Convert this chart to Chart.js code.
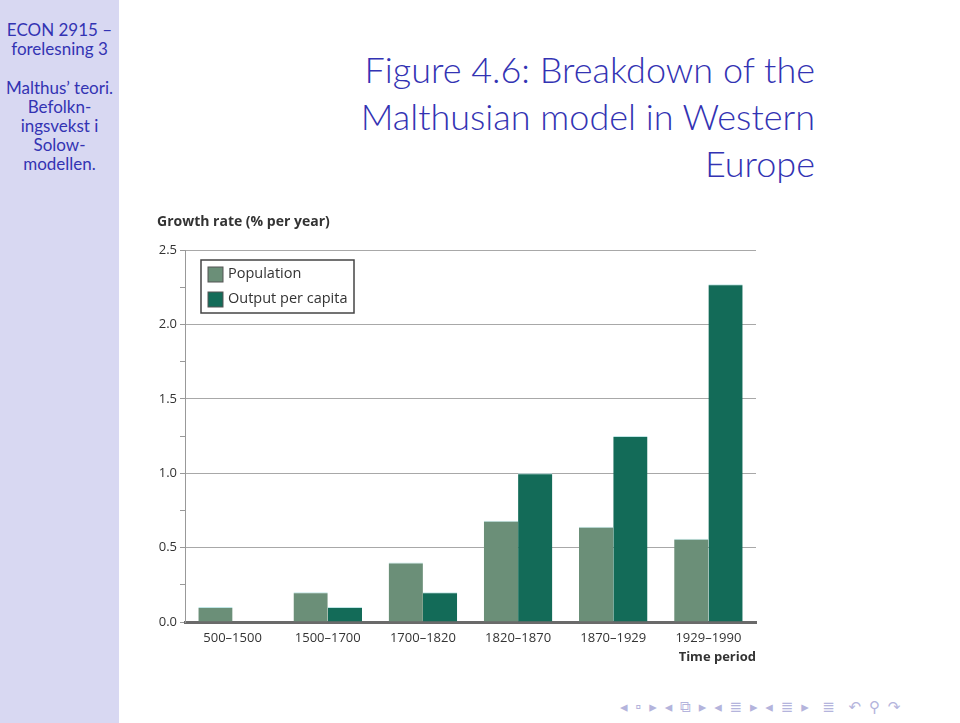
<!DOCTYPE html>
<html>
<head>
<meta charset="utf-8">
<script src="https://cdn.jsdelivr.net/npm/chart.js@4"></script>
<style>
  body { margin: 0; width: 960px; height: 723px; background: #fff; position: relative; overflow: hidden; font-family: "Lato", "DejaVu Sans", sans-serif; }
  #sidebar { position: absolute; left: 0; top: 0; width: 119px; height: 723px; background: #d8d8f2; color: #3333b3; text-align: center; font-size: 17px; line-height: 19px; }
  #sidebar .a { position: absolute; top: 20px; left: 0; width: 119px; }
  #sidebar .b { position: absolute; top: 78px; left: 0; width: 119px; }
  #title { position: absolute; right: 145px; top: 46px; text-align: right; color: #3333b3; font-size: 36px; line-height: 47px; font-weight: 300; }
  #nav { position: absolute; left: 620px; top: 697px; color: #b4b4dc; font-size: 15px; letter-spacing: 2px; white-space: nowrap; }
  #wrap { position: absolute; left: 140px; top: 200px; }
</style>
</head>
<body>
<div id="sidebar">
  <div class="a">ECON 2915 –<br>forelesning 3</div>
  <div class="b">Malthus’ teori.<br>Befolkn-<br>ingsvekst i<br>Solow-<br>modellen.</div>
</div>
<div id="title">Figure 4.6: Breakdown of the<br>Malthusian model in Western<br>Europe</div>
<div id="wrap"><canvas id="chart" width="640" height="480"></canvas></div>
<div id="nav">◂ ▫ ▸ ◂ ⧉ ▸ ◂ ≣ ▸ ◂ ≣ ▸ &nbsp;≣ &nbsp;↶ ⚲ ↷</div>
<script>
// Growth rates, % per year
const periods = ['500–1500', '1500–1700', '1700–1820', '1820–1870', '1870–1929', '1929–1990'];
const population = [0.1, 0.2, 0.4, 0.68, 0.64, 0.56];
const outputPerCapita = [0, 0.1, 0.2, 1.0, 1.25, 2.27];

const popColor = '#6b8f78';
const outColor = '#136b58';
const textColor = '#333333';
const labelFont = '"Open Sans", "DejaVu Sans", sans-serif';

// axis titles and the boxed legend inside the plot
const extras = {
    id: 'extras',
    afterDraw(chart) {
        const ctx = chart.ctx;
        const area = chart.chartArea;
        ctx.save();
        ctx.fillStyle = textColor;
        ctx.textBaseline = 'middle';
        ctx.font = 'bold 14px ' + labelFont;
        ctx.textAlign = 'left';
        ctx.fillText('Growth rate (% per year)', 17, 22);
        ctx.font = 'bold 13px ' + labelFont;
        ctx.textAlign = 'right';
        ctx.fillText('Time period', area.right, 457);

        // legend
        const lx = area.left + 16, ly = area.top + 10;
        ctx.fillStyle = '#fff';
        ctx.fillRect(lx, ly, 153, 53);
        ctx.strokeStyle = '#444';
        ctx.lineWidth = 1.5;
        ctx.strokeRect(lx, ly, 153, 53);
        ctx.textAlign = 'left';
        ctx.font = '14.5px ' + labelFont;
        chart.data.datasets.forEach((ds, i) => {
            const y = ly + 14 + i * 25;
            ctx.fillStyle = ds.backgroundColor;
            ctx.fillRect(lx + 7, y - 7, 15, 15);
            ctx.strokeStyle = '#555';
            ctx.lineWidth = 1;
            ctx.strokeRect(lx + 7, y - 7, 15, 15);
            ctx.fillStyle = textColor;
            ctx.fillText(ds.label, lx + 27, y);
        });
        ctx.restore();
    }
};

new Chart(document.getElementById('chart'), {
    type: 'bar',
    data: {
        labels: periods,
        datasets: [
            { label: 'Population', data: population, backgroundColor: popColor,
              borderColor: '#bfe6e6', borderWidth: { top: 1, left: 0, right: 0, bottom: 0 }, borderSkipped: 'bottom' },
            { label: 'Output per capita', data: outputPerCapita, backgroundColor: outColor,
              borderColor: '#bfe6e6', borderWidth: { top: 1, left: 0, right: 0, bottom: 0 }, borderSkipped: 'bottom' }
        ]
    },
    options: {
        responsive: false,
        animation: false,
        layout: { padding: { top: 50, right: 24, left: 0, bottom: 0 } },
        plugins: { legend: { display: false }, tooltip: { enabled: false } },
        datasets: { bar: { categoryPercentage: 0.72, barPercentage: 1.0 } },
        scales: {
            x: {
                grid: { display: false },
                border: { color: '#6a6a6a', width: 3 },
                ticks: { color: textColor, font: { family: labelFont, size: 13 }, padding: 0, maxRotation: 0 },
                afterFit(scale) { scale.height = 58; }
            },
            y: {
                min: 0,
                max: 2.5,
                border: { color: '#999', width: 1 },
                grid: {
                    color: (c) => (Math.abs(c.tick.value * 2 - Math.round(c.tick.value * 2)) < 1e-6 ? '#a8a8a8' : 'rgba(0,0,0,0)'),
                    tickColor: '#999',
                    tickLength: 5,
                    lineWidth: 1
                },
                ticks: {
                    stepSize: 0.25,
                    color: textColor,
                    font: { family: labelFont, size: 13 },
                    padding: 3,
                    callback: (v) => (Math.abs(v * 2 - Math.round(v * 2)) < 1e-6 ? v.toFixed(1) : '')
                },
                afterFit(scale) { scale.width = 45; }
            }
        }
    },
    plugins: [extras]
});
</script>
</body>
</html>
